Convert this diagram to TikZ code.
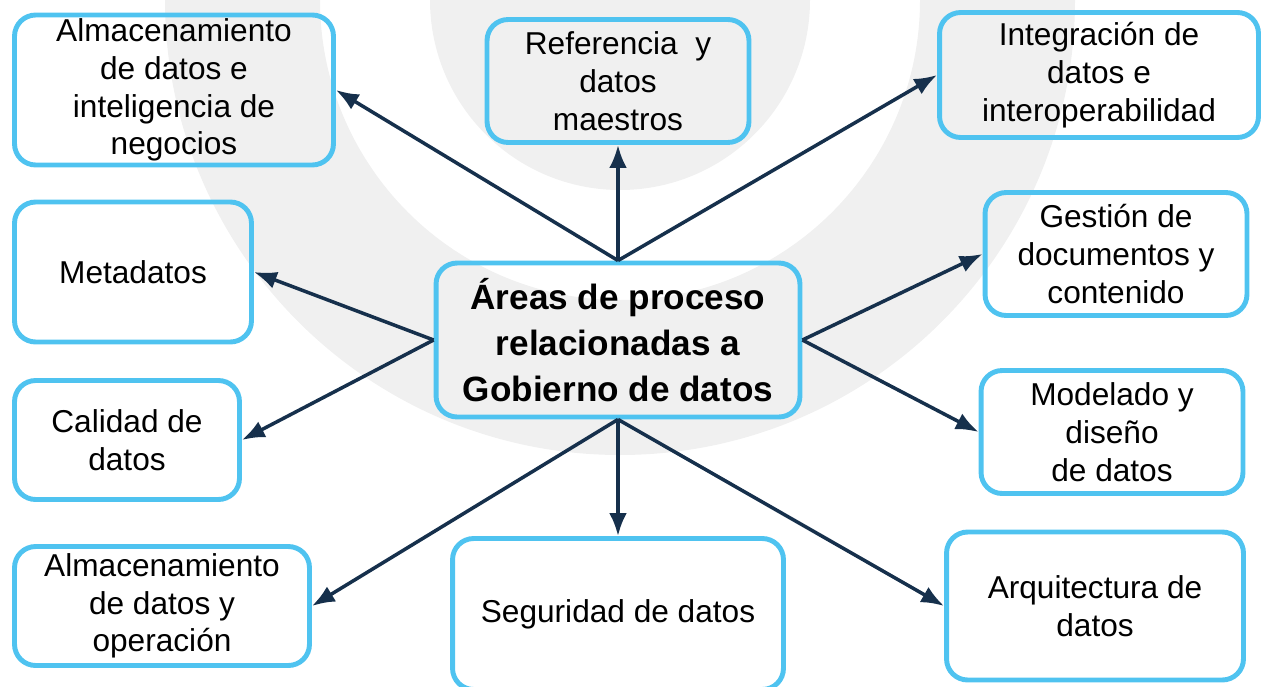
\documentclass[tikz,border=0pt]{standalone}
\usepackage{fontspec}
\setmainfont{Liberation Sans}
\usetikzlibrary{arrows.meta}

\definecolor{boxblue}{RGB}{79,195,240}
\definecolor{arrowblue}{RGB}{22,48,76}
\definecolor{wmgray}{RGB}{240,240,240}

\begin{document}
\begin{tikzpicture}[x=0.02cm,y=-0.02cm,
  area/.style={draw=boxblue,line width=2.8pt,rounded corners=12pt,align=center,
    inner sep=0pt,font=\fontsize{18}{21.5}\selectfont},
  main/.style={area,font=\fontsize{20}{26}\selectfont\bfseries},
  link/.style={draw=arrowblue,line width=2pt,-{Latex[length=13pt,width=10pt]}}]
\useasboundingbox (0,0) rectangle (1263,686);
\clip (0,0) rectangle (1263,686);

% faint logo in the background
\fill[wmgray] (165,0) arc[start angle=180,end angle=0,radius=455]
  -- (920,0) arc[start angle=0,end angle=180,radius=300] -- cycle;
\fill[wmgray] (430,0) arc[start angle=180,end angle=0,radius=190] -- cycle;

% the center
\node[main,minimum width=7.28cm,minimum height=3.08cm] (areas) at (618,340)
  {Áreas de proceso\\relacionadas a\\Gobierno de datos};

% the areas round it
\node[area,minimum width=6.38cm,minimum height=3.0cm] (almbi) at (174,90)
  {Almacenamiento\\de datos e\\inteligencia de\\negocios};
\node[area,minimum width=5.24cm,minimum height=2.46cm] (refer) at (618,81)
  {Referencia~ y\\datos\\maestros};
\node[area,minimum width=6.38cm,minimum height=2.5cm] (integ) at (1099,75)
  {Integración de\\datos e\\interoperabilidad};
\node[area,minimum width=4.74cm,minimum height=2.8cm] (meta) at (133,272)
  {Metadatos};
\node[area,minimum width=5.24cm,minimum height=2.46cm] (gest) at (1116,254)
  {Gestión de\\documentos y\\contenido};
\node[area,minimum width=4.5cm,minimum height=2.38cm] (calid) at (127,440)
  {Calidad de\\datos};
\node[area,minimum width=5.24cm,minimum height=2.46cm] (model) at (1112,432)
  {Modelado y\\diseño\\de datos};
\node[area,minimum width=5.9cm,minimum height=2.38cm] (almop) at (162,606)
  {Almacenamiento\\de datos y\\operación};
\node[area,minimum width=6.62cm,minimum height=3.02cm] (segur) at (618,614)
  {Seguridad de datos};
\node[area,minimum width=5.94cm,minimum height=2.96cm] (arqui) at (1095,606)
  {Arquitectura de\\datos};

% arrows out of the center
\draw[link] (areas.north) -- (almbi.east);
\draw[link] (areas.north) -- (refer.south);
\draw[link] (areas.north) -- (integ.west);
\draw[link] (areas.west) -- (meta.east);
\draw[link] (areas.west) -- (calid.east);
\draw[link] (areas.east) -- (gest.west);
\draw[link] (areas.east) -- (model.west);
\draw[link] (areas.south) -- (almop.east);
\draw[link] (areas.south) -- (segur.north);
\draw[link] (areas.south) -- (arqui.west);
\end{tikzpicture}
\end{document}
